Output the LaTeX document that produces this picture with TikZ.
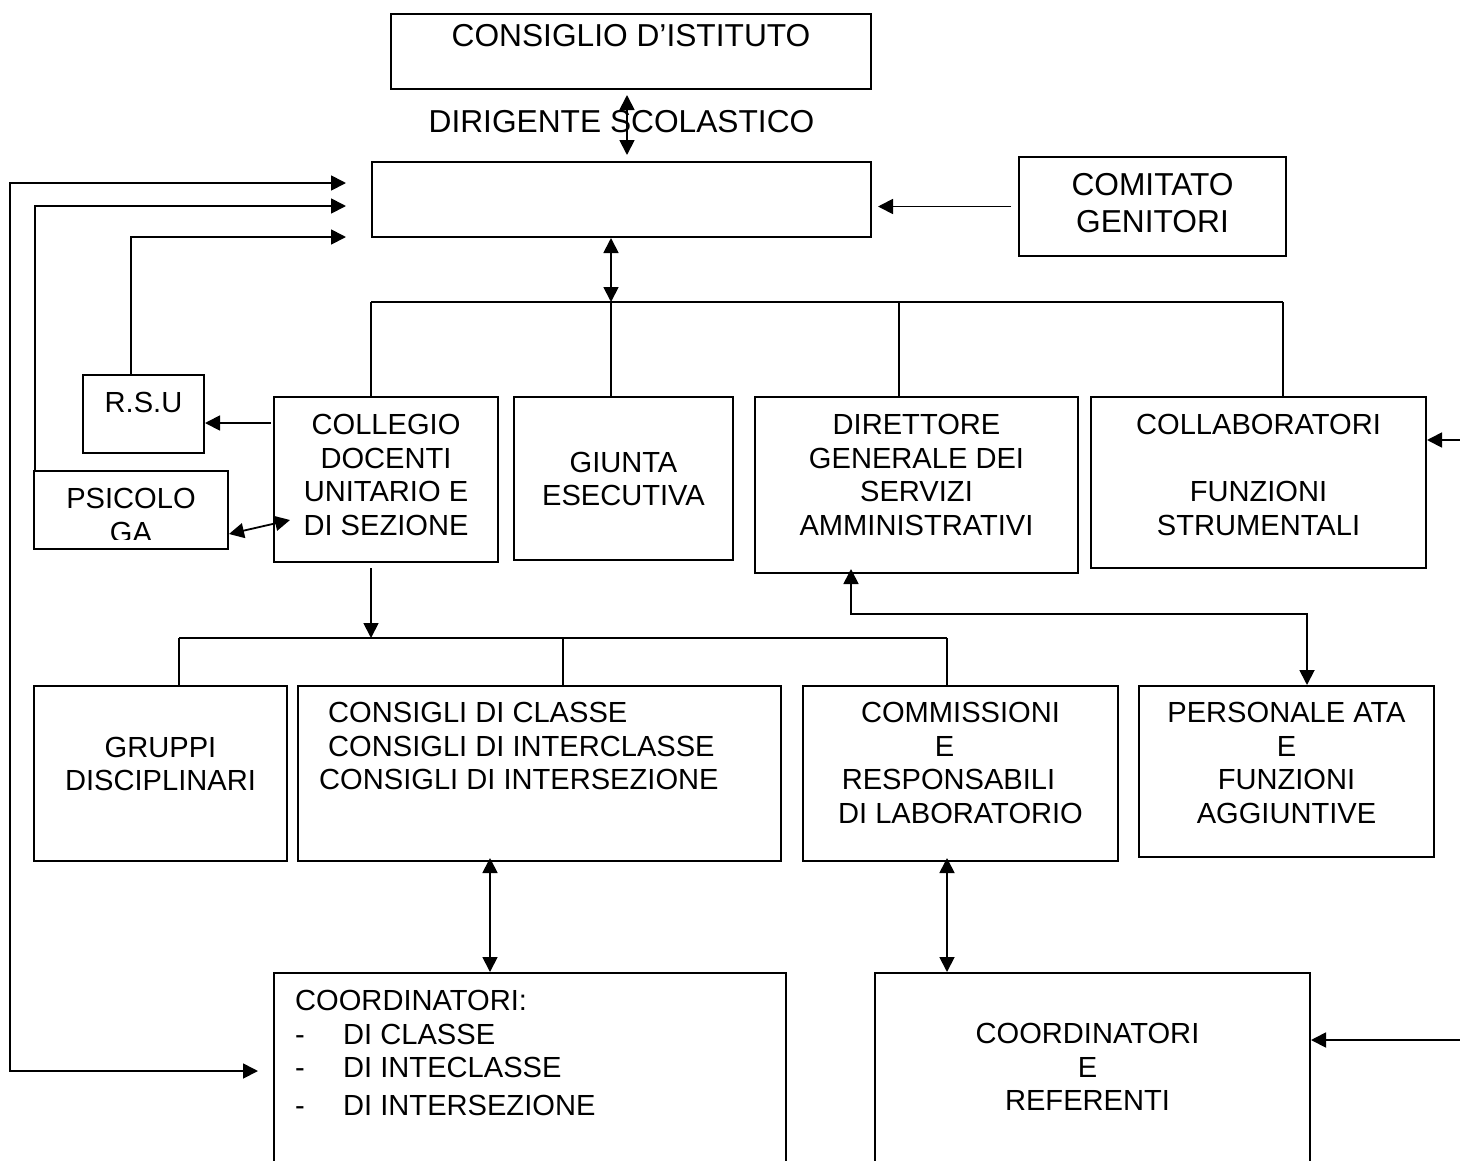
\documentclass[tikz,border=0pt]{standalone}
\usepackage{fontspec}
\setmainfont{Liberation Sans}
\usetikzlibrary{positioning,arrows.meta}

\tikzset{
  box/.style={draw, line width=2pt, inner sep=0pt, anchor=north west},
  txt/.style={inner sep=0pt, align=center, font=\fontsize{29.1}{33.5}\selectfont},
  bigtxt/.style={txt, font=\fontsize{31.7}{36.5}\selectfont},
  link/.style={line width=1.8pt},
}

\begin{document}
\begin{tikzpicture}[x=1pt, y=-1pt, >={Triangle[length=15pt,width=15pt]}]
    \clip (0,0) rectangle (1460,1160);

    % boxes
    \node[box, minimum width=480, minimum height=75] (ci) at (390,13) {};
    \node[box, minimum width=499, minimum height=75] (ds) at (371,161) {};
    \node[box, minimum width=267, minimum height=99] (cg) at (1018,156) {};
    \node[box, minimum width=121, minimum height=78] (rsu) at (82,374) {};
    \node[box, minimum width=194, minimum height=78] (psi) at (33,470) {};
    \node[box, minimum width=224, minimum height=165] (coll) at (273,396) {};
    \node[box, minimum width=219, minimum height=163] (giu) at (513,396) {};
    \node[box, minimum width=323, minimum height=176] (dir) at (754,396) {};
    \node[box, minimum width=335, minimum height=171] (cf) at (1090,396) {};
    \node[box, minimum width=253, minimum height=175] (grp) at (33,685) {};
    \node[box, minimum width=483, minimum height=175] (cons) at (297,685) {};
    \node[box, minimum width=315, minimum height=175] (comm) at (802,685) {};
    \node[box, minimum width=295, minimum height=171] (ata) at (1138,685) {};
    \node[box, minimum width=512, minimum height=260] (coord) at (273,972) {};
    \node[box, minimum width=435, minimum height=260] (cref) at (874,972) {};

    % texts
    \node[bigtxt, below=11pt of ci.north] (tci) {CONSIGLIO D’ISTITUTO};
    \node[bigtxt, above=28pt of ds.north] (tds) {DIRIGENTE SCOLASTICO};
    \node[bigtxt, below=17.5pt of cg.north] (tcg) {COMITATO\\GENITORI};
    \node[txt, below=18pt of rsu.north] (trsu) {R.S.U};
    \begin{scope}
      \clip (psi.north west) rectangle ([yshift=11pt]psi.south east);
      \node[txt, below=18pt of psi.north] (tpsi) {PSICOLO\\GA};
    \end{scope}
    \node[txt, below=18pt of coll.north] (tcoll) {COLLEGIO\\DOCENTI\\UNITARIO E\\DI SEZIONE};
    \node[txt, below=55.6pt of giu.north] (tgiu) {GIUNTA\\ESECUTIVA};
    \node[txt, below=18pt of dir.north] (tdir) {DIRETTORE\\GENERALE DEI\\SERVIZI\\AMMINISTRATIVI};
    \node[txt, below=18pt of cf.north] (tcf) {COLLABORATORI\\ \\FUNZIONI\\STRUMENTALI};
    \node[txt, below=51.8pt of grp.north] (tgrp) {GRUPPI\\DISCIPLINARI};
    \node[txt, align=left, below right=17.4pt and 22pt of cons.north west] (tcons)
      {\hspace*{9pt}CONSIGLI DI CLASSE\\\hspace*{9pt}CONSIGLI DI INTERCLASSE\\CONSIGLI DI INTERSEZIONE};
    \node[txt, below=17.4pt of comm.north] (tcomm)
      {COMMISSIONI\\E\kern32pt\null\\RESPONSABILI\kern24pt\null\\DI LABORATORIO};
    \node[txt, below=17.4pt of ata.north] (tata) {PERSONALE ATA\\E\\FUNZIONI\\AGGIUNTIVE};
    \node[txt, align=left, below right=18.2pt and 22pt of coord.north west] (tcoord)
      {COORDINATORI:\\\makebox[48pt][l]{-}DI CLASSE\\\makebox[48pt][l]{-}DI INTECLASSE\\[4.5pt]\makebox[48pt][l]{-}DI INTERSEZIONE};
    \node[txt, below=51.2pt of cref.north, xshift=-5pt] (tcref) {COORDINATORI\\E\\REFERENTI};

    % connectors
    \coordinate (dsup) at ([xshift=-4pt]ci.south);
    \draw[link, <->, shorten <=5pt, shorten >=6pt] (dsup) -- (dsup |- ds.north);
    \draw[link, ->, shorten <=7pt, shorten >=6pt] (cg.west) -- (cg.west -| ds.east);

    \coordinate (b1) at (371,302);
    \coordinate (b2) at (611,302);
    \coordinate (b3) at (899,302);
    \coordinate (b4) at (1283,302);
    \draw[link] (b1) -- (b4);
    \draw[link, <->] (b2 |- ds.south) -- (b2);
    \draw[link] (b1) -- (b1 |- coll.north);
    \draw[link] (b2) -- (b2 |- giu.north);
    \draw[link] (b3) -- (b3 |- dir.north);
    \draw[link] (b4) -- (b4 |- cf.north);

    \coordinate (c1) at (179,638);
    \coordinate (c2) at (371,638);
    \coordinate (c3) at (563,638);
    \coordinate (c4) at (947,638);
    \draw[link, ->, shorten <=5pt] (c2 |- coll.south) -- (c2);
    \draw[link] (c1) -- (c4);
    \draw[link] (c1) -- (c1 |- grp.north);
    \draw[link] (c3) -- (c3 |- cons.north);
    \draw[link] (c4) -- (c4 |- comm.north);

    \coordinate (d1) at (851,614);
    \coordinate (d2) at (1307,614);
    \draw[link, <->, shorten <=-5pt] (d1 |- dir.south) -- (d1) -- (d2) -- (d2 |- ata.north);

    \coordinate (v1) at (490,916);
    \coordinate (v2) at (947,916);
    \draw[link, <->, shorten <=-4pt] (v1 |- cons.south) -- (v1 |- coord.north);
    \draw[link, <->, shorten <=-4pt] (v2 |- comm.south) -- (v2 |- cref.north);

    \coordinate (r1) at ([yshift=-9pt]rsu.east);
    \draw[link, ->, shorten <=2pt] (r1 -| coll.west) -- (r1);
    \draw[link, <->] ([yshift=16pt]psi.south east) -- ([xshift=17pt,yshift=43pt]coll.south west);

    \coordinate (l1) at (10,183);
    \coordinate (l1b) at (10,1071);
    \draw[link, <->, shorten <=25pt, shorten >=15pt] (l1 -| ds.west) -- (l1) -- (l1b) -- (l1b -| coord.west);
    \coordinate (l2) at (35,206);
    \draw[link, ->, shorten >=25pt] (l2 |- psi.north) -- (l2) -- (l2 -| ds.west);
    \coordinate (l3) at (131,237);
    \draw[link, ->, shorten >=25pt] (l3 |- rsu.north) -- (l3) -- (l3 -| ds.west);

    \coordinate (e1) at (1460,440);
    \coordinate (e2) at (1460,1040);
    \draw[link, ->] (e1) -- (e1 -| cf.east);
    \draw[link, ->] (e2) -- (e2 -| cref.east);
\end{tikzpicture}
\end{document}
